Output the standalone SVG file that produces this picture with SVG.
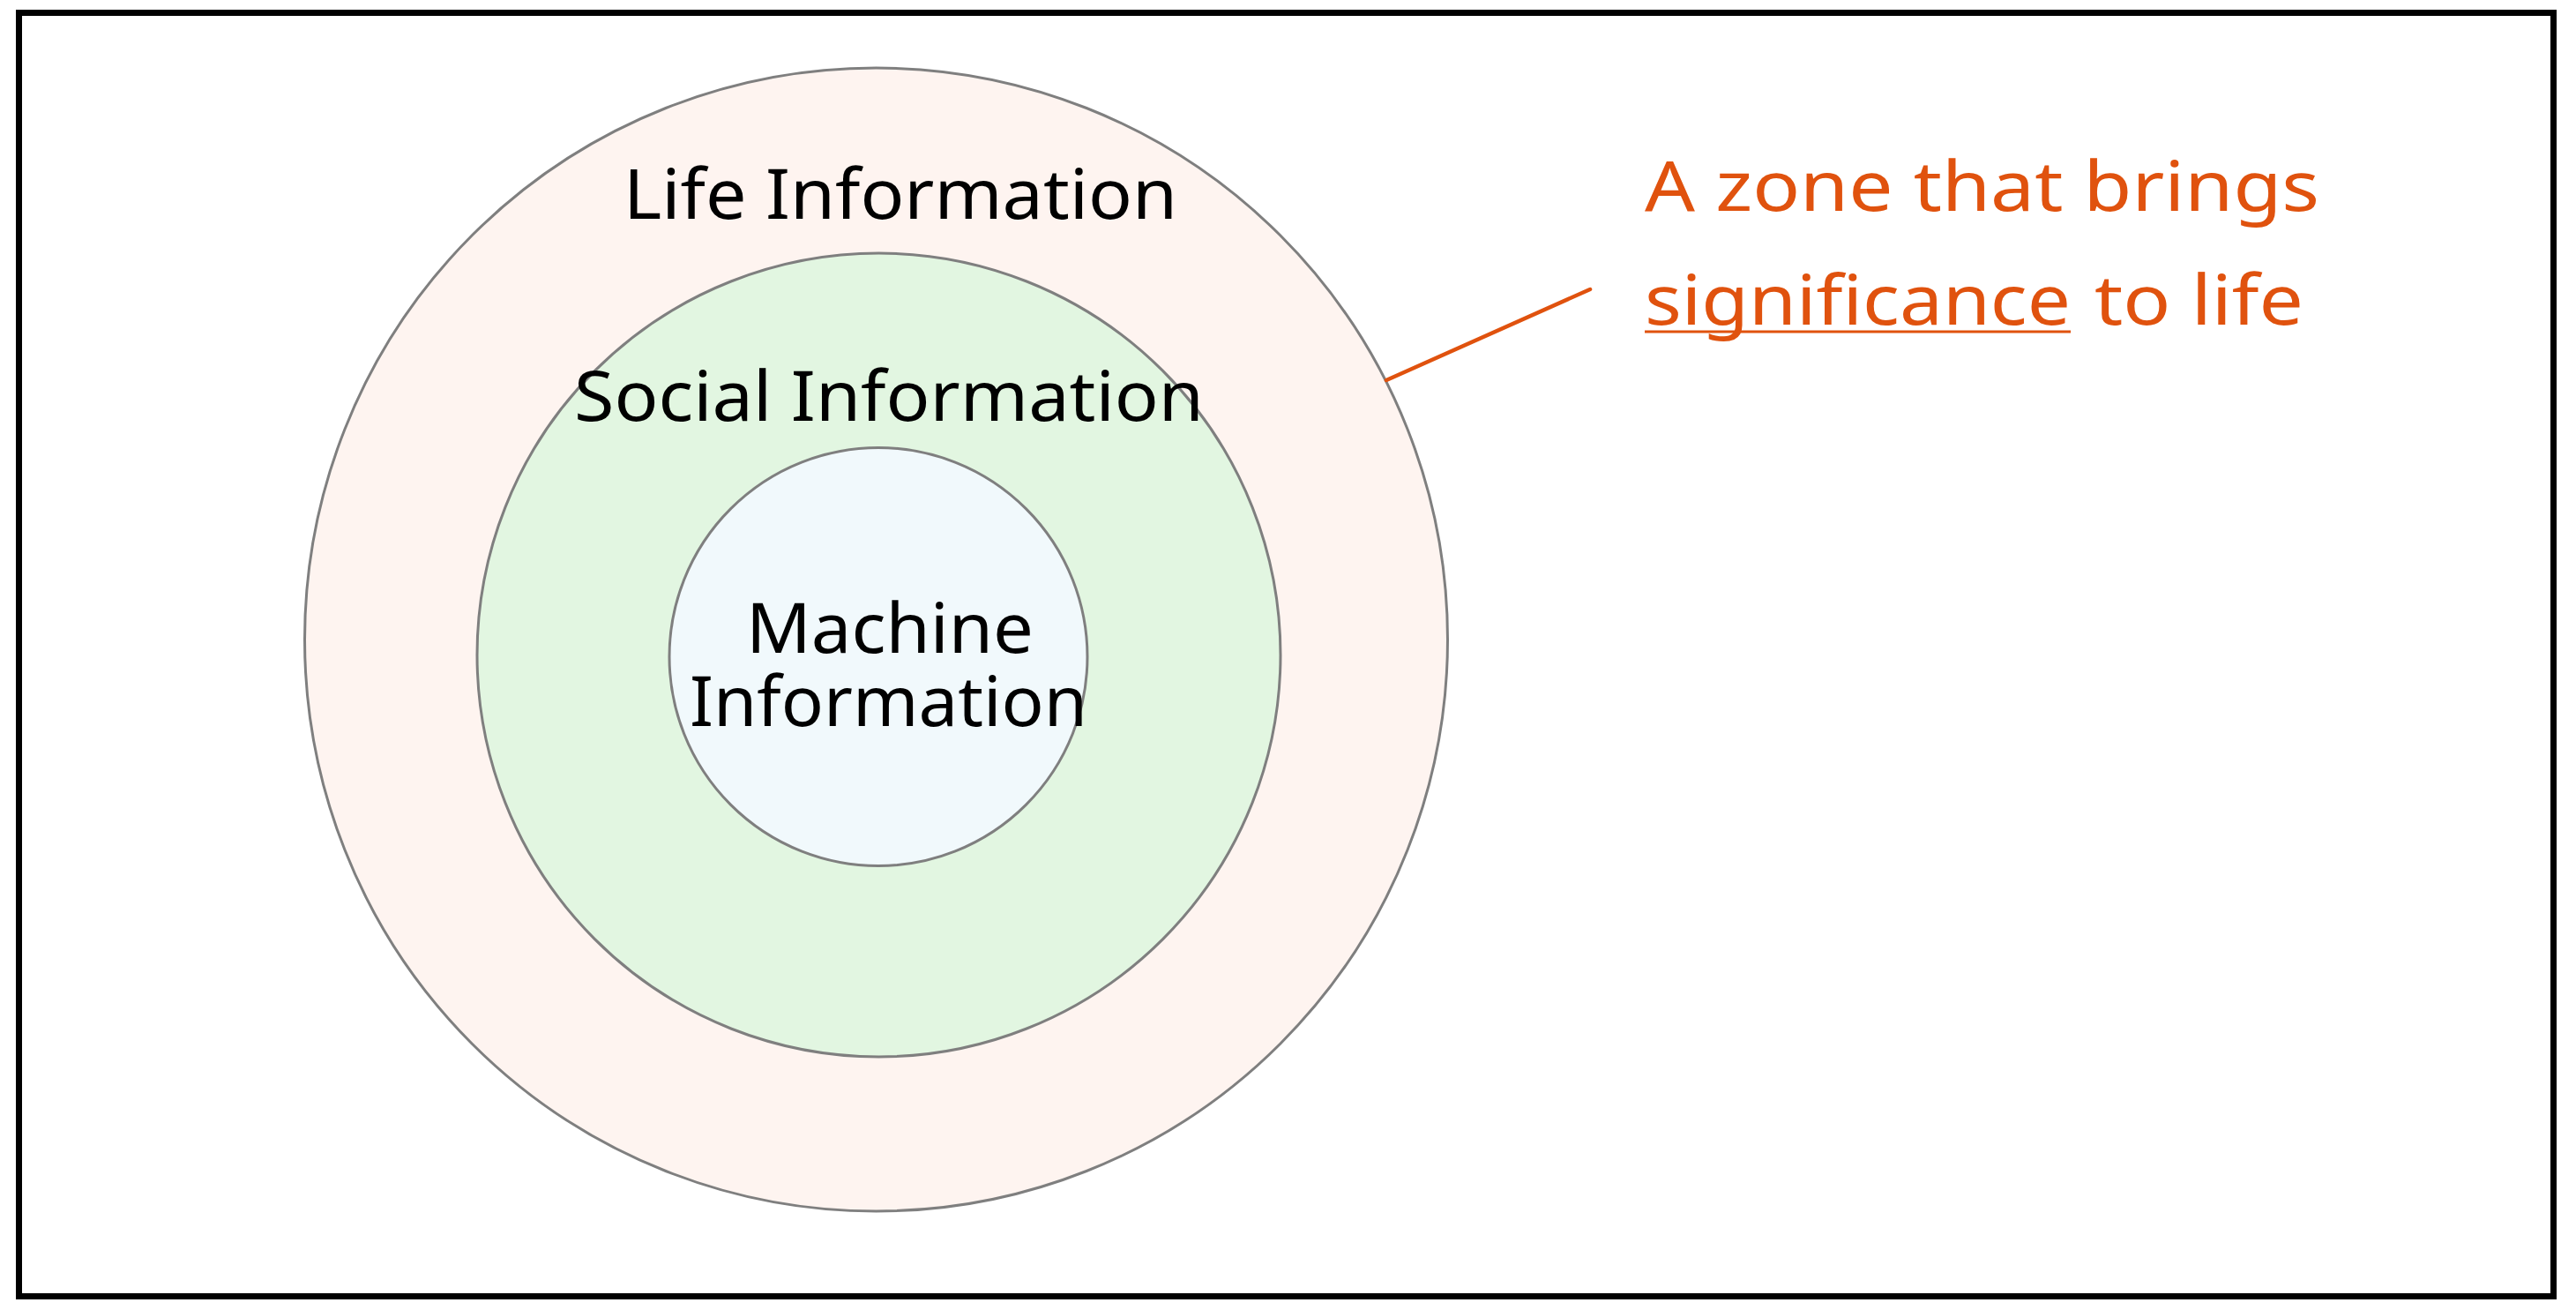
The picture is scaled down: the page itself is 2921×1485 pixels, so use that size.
<svg xmlns="http://www.w3.org/2000/svg" width="2921" height="1485" viewBox="0 0 2921 1485">
  <style>
    .ring { stroke: #7F7F7F; stroke-width: 3; }
    .lbl { font-family: "Noto Sans", "Liberation Sans", sans-serif; font-size: 78px; fill: #000000; }
    .note { font-family: "Noto Sans", "Liberation Sans", sans-serif; font-size: 78px; fill: #E0520E; }
  </style>
  <rect x="0" y="0" width="2921" height="1485" fill="#FFFFFF"/>
  <rect id="frame" x="21.5" y="14.5" width="2874" height="1455" fill="#FFFFFF" stroke="#000000" stroke-width="7"/>

  <g id="life-information">
    <circle class="ring" cx="993.5" cy="725" r="648" fill="#FEF4F0"/>
    <text class="lbl" x="707" y="248" textLength="628" lengthAdjust="spacingAndGlyphs">Life Information</text>
  </g>

  <g id="social-information">
    <circle class="ring" cx="996.5" cy="742.5" r="455.5" fill="#E2F6E1"/>
    <text class="lbl" x="651" y="477" textLength="714" lengthAdjust="spacingAndGlyphs">Social Information</text>
  </g>

  <g id="machine-information">
    <circle class="ring" cx="996" cy="744.5" r="237" fill="#F1F9FC"/>
    <text class="lbl" x="846" y="740" textLength="326" lengthAdjust="spacingAndGlyphs">Machine</text>
    <text class="lbl" x="782" y="823" textLength="451" lengthAdjust="spacingAndGlyphs">Information</text>
  </g>

  <g id="connectors">
    <line x1="1572" y1="431" x2="1803" y2="328" stroke="#E0520E" stroke-width="4.5" stroke-linecap="round"/>
  </g>

  <g id="annotation">
    <text class="note" x="1865" y="239" textLength="765" lengthAdjust="spacingAndGlyphs">A zone that brings</text>
    <text class="note" x="1865" y="368" textLength="483" lengthAdjust="spacingAndGlyphs">significance</text>
    <text class="note" x="2375" y="368" textLength="237" lengthAdjust="spacingAndGlyphs">to life</text>
    <line x1="1865" y1="376" x2="2348" y2="376" stroke="#E0520E" stroke-width="3"/>
  </g>
</svg>
